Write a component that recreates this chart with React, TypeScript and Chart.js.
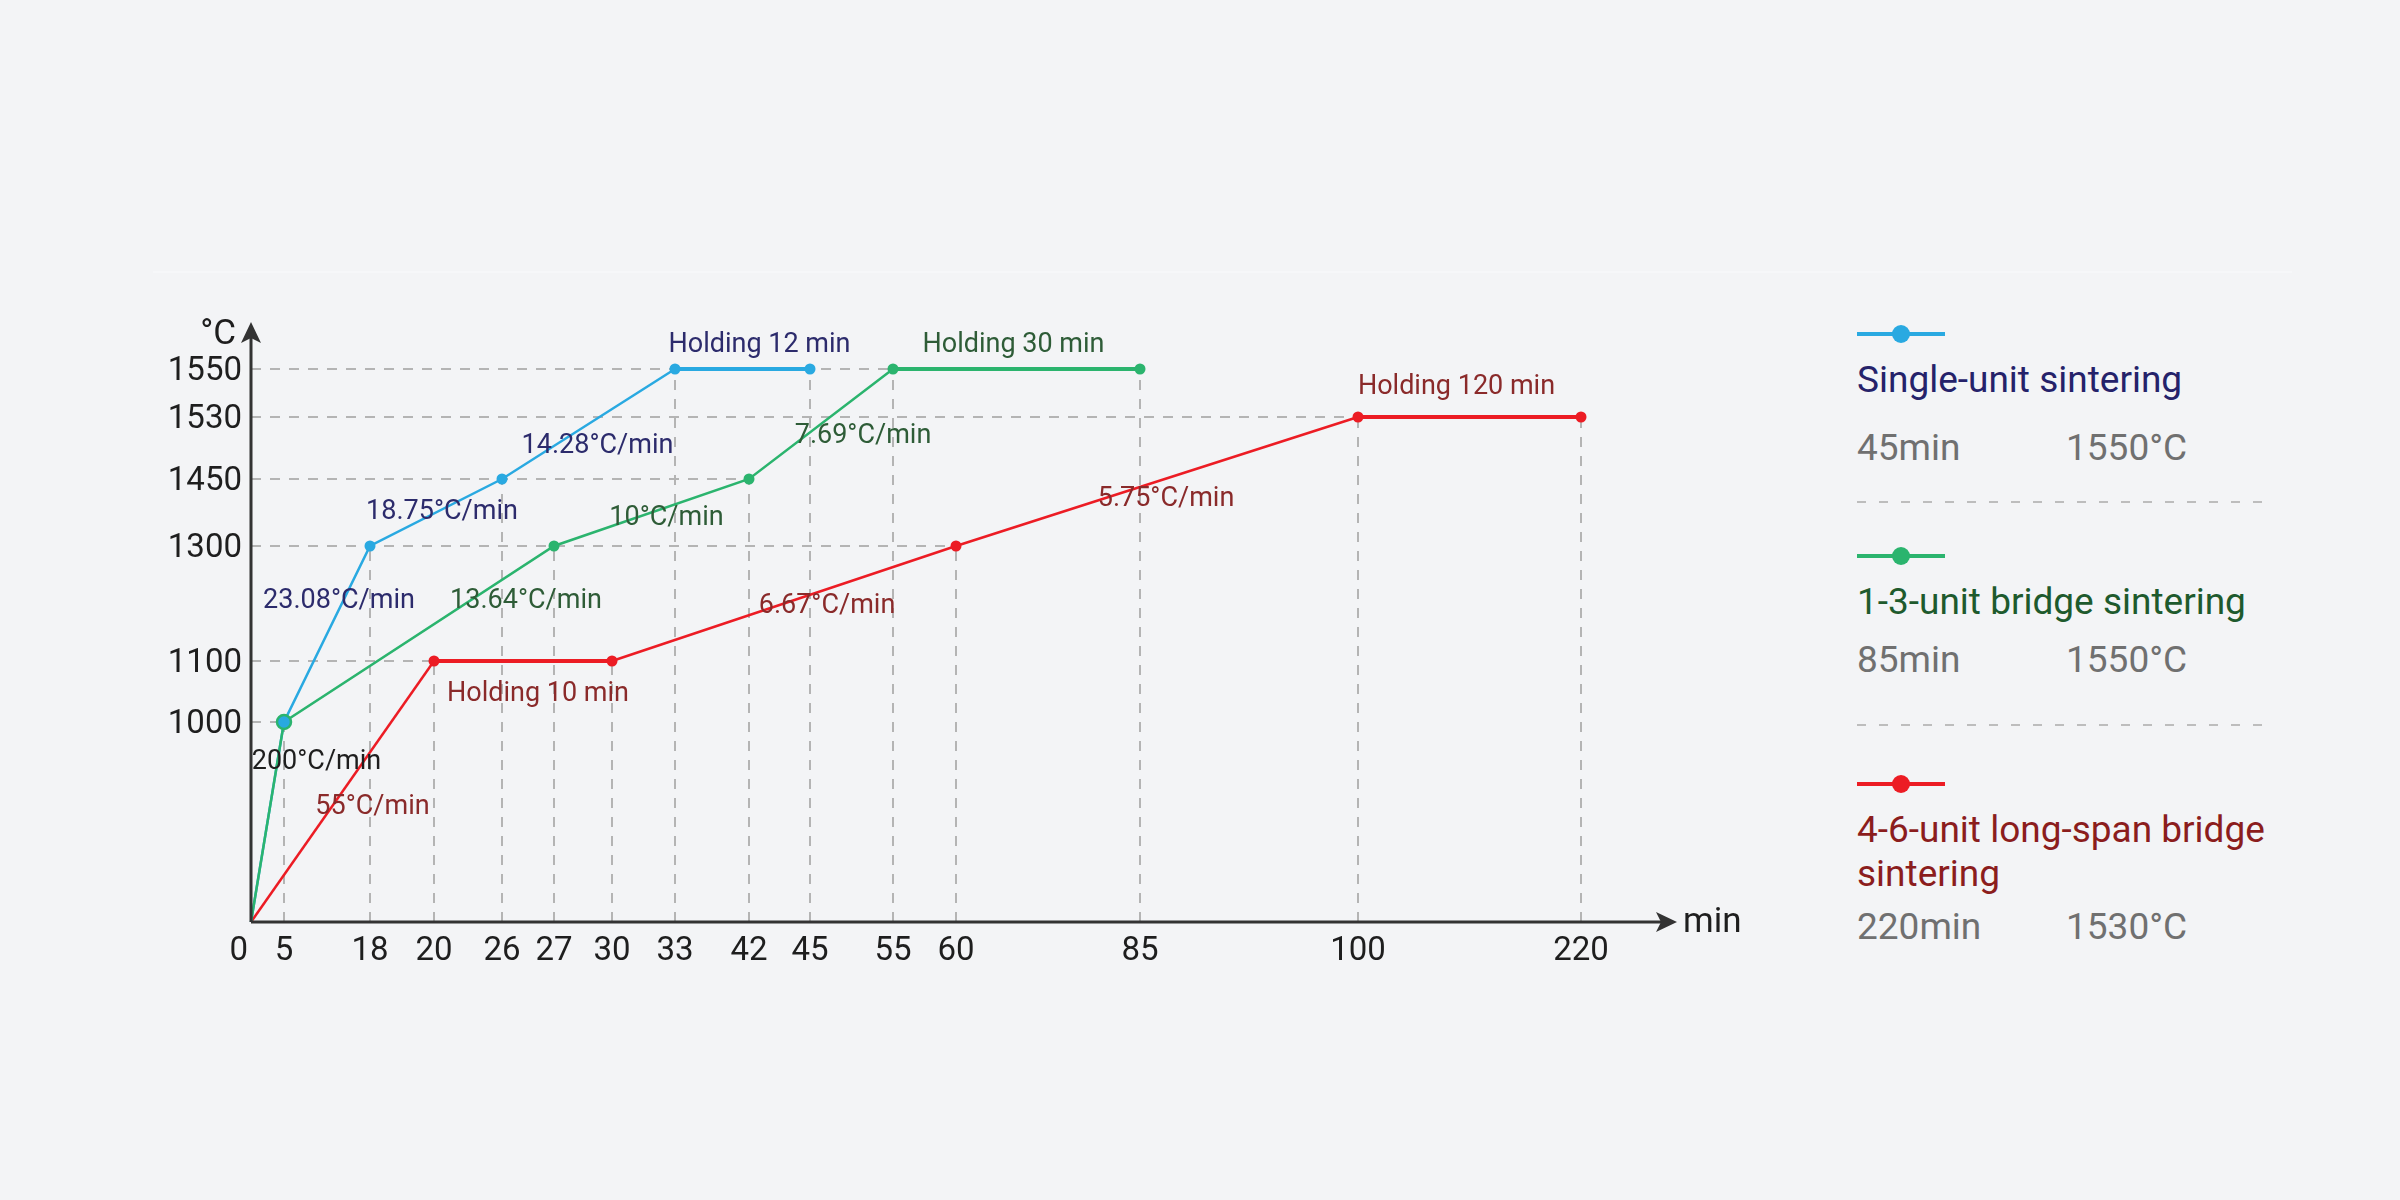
import { useEffect, useRef } from "react";
import { Chart, LinearScale, registerables } from "chart.js";

Chart.register(...registerables);

// axis ticks
const minutes = [0, 5, 18, 20, 26, 27, 30, 33, 42, 45, 55, 60, 85, 100, 220];
const temps = [0, 1000, 1100, 1300, 1450, 1530, 1550];

// single-unit sintering
const singleMin = [0, 5, 18, 26, 33, 45];
const singleTemp = [0, 1000, 1300, 1450, 1550, 1550];
const singleRates = ["", "23.08°C/min", "18.75°C/min", "14.28°C/min", "Holding 12 min"];

// 1-3-unit bridge sintering
const bridgeMin = [0, 5, 27, 42, 55, 85];
const bridgeTemp = [0, 1000, 1300, 1450, 1550, 1550];
const bridgeRates = ["200°C/min", "13.64°C/min", "10°C/min", "7.69°C/min", "Holding 30 min"];

// 4-6-unit long-span bridge sintering
const longMin = [0, 20, 30, 60, 100, 220];
const longTemp = [0, 1100, 1100, 1300, 1530, 1530];
const longRates = ["55°C/min", "Holding 10 min", "6.67°C/min", "5.75°C/min", "Holding 120 min"];

const seriesNames = ["Single-unit sintering", "1-3-unit bridge sintering", "4-6-unit long-span bridge sintering"];
const totalTimes = ["45min", "85min", "220min"];
const peakTemps = ["1550°C", "1550°C", "1530°C"];

// ---- layout / style ----
const BG = "#f3f4f6";
const FONT = "Roboto, 'Noto Sans', sans-serif";
const LINE_COLORS = ["#29a9e1", "#2bb46e", "#ec1c24"];
const NOTE_COLORS = ["#2c2b6c", "#2e5c37", "#8a2a2a"];
const TITLE_COLORS = ["#25226a", "#1e5a2d", "#8b1d1d"];

// the axes are hand-spaced: pixel gap between neighbouring ticks
const X_GAPS = [33, 86, 64, 68, 52, 58, 63, 74, 61, 83, 63, 184, 218, 223];
const Y_GAPS = [200, 61, 115, 67, 62, 48];

// label offsets from each segment's midpoint [dx, dy]
const NOTE_OFFSETS = [
  [[0, 0], [12, -33], [6, 0], [9, 22], [17, -24]],
  [[49, -60], [107, -33], [15, 6], [42, 12], [-3, -24]],
  [[30, 16], [15, 33], [43, 3], [9, 18], [-13, -30]],
];

function makeWarp(breaks: number[], gaps: number[]) {
  const cum = [0];
  gaps.forEach((g, i) => cum.push(cum[i] + g));
  const total = cum[cum.length - 1];
  const toDec = (v: number) => {
    let i = 0;
    while (i < breaks.length - 2 && v > breaks[i + 1]) i++;
    const t = (v - breaks[i]) / (breaks[i + 1] - breaks[i]);
    return (cum[i] + t * gaps[i]) / total;
  };
  const fromDec = (d: number) => {
    const p = d * total;
    let i = 0;
    while (i < gaps.length - 1 && p > cum[i + 1]) i++;
    return breaks[i] + ((p - cum[i]) / gaps[i]) * (breaks[i + 1] - breaks[i]);
  };
  return { toDec, fromDec };
}

const warps: any = { x: makeWarp(minutes, X_GAPS), y: makeWarp(temps, Y_GAPS) };

class StepAxis extends LinearScale {
  static id = "stepAxis";
  static defaults = {};
  buildTicks() {
    return (this.axis === "x" ? minutes : temps).map((value) => ({ value }));
  }
  getPixelForValue(value: number) {
    return this.getPixelForDecimal(warps[this.axis].toDec(value));
  }
  getValueForPixel(pixel: number) {
    return warps[this.axis].fromDec(this.getDecimalForPixel(pixel));
  }
}
Chart.register(StepAxis);

const toPoints = (xs: number[], ys: number[]) => xs.map((x, i) => ({ x, y: ys[i] }));

const guidePlugin = {
  id: "guides",
  beforeDatasetsDraw(chart: any) {
    const { ctx, scales } = chart;
    const { x, y } = scales;
    const topAt = new Map<number, number>();
    const rightAt = new Map<number, number>();
    chart.data.datasets.forEach((ds: any) =>
      ds.data.forEach((p: any) => {
        if (p.y === 0) return;
        topAt.set(p.x, Math.max(topAt.get(p.x) ?? 0, p.y));
        rightAt.set(p.y, Math.max(rightAt.get(p.y) ?? 0, p.x));
      })
    );
    const x0 = x.getPixelForValue(0);
    const y0 = y.getPixelForValue(0);
    ctx.save();
    ctx.strokeStyle = "#b4b4b4";
    ctx.lineWidth = 2;
    ctx.setLineDash([10, 9]);
    topAt.forEach((t, m) => {
      const px = x.getPixelForValue(m);
      ctx.beginPath();
      ctx.moveTo(px, y0);
      ctx.lineTo(px, y.getPixelForValue(t));
      ctx.stroke();
    });
    rightAt.forEach((m, t) => {
      const py = y.getPixelForValue(t);
      ctx.beginPath();
      ctx.moveTo(x0, py);
      ctx.lineTo(x.getPixelForValue(m), py);
      ctx.stroke();
    });
    ctx.restore();
  },
};

const axesPlugin = {
  id: "arrowAxes",
  afterDatasetsDraw(chart: any) {
    const { ctx, scales } = chart;
    const x0 = scales.x.getPixelForValue(0);
    const y0 = scales.y.getPixelForValue(0);
    const top = chart.chartArea.top - 47;
    const right = chart.chartArea.right + 96;
    ctx.save();
    ctx.strokeStyle = "#333";
    ctx.fillStyle = "#333";
    ctx.lineWidth = 3;
    ctx.beginPath();
    ctx.moveTo(x0, y0);
    ctx.lineTo(x0, top + 12);
    ctx.moveTo(x0, y0);
    ctx.lineTo(right - 12, y0);
    ctx.stroke();
    // arrow heads
    ctx.beginPath();
    ctx.moveTo(x0, top);
    ctx.lineTo(x0 + 10, top + 21);
    ctx.lineTo(x0, top + 16);
    ctx.lineTo(x0 - 10, top + 21);
    ctx.closePath();
    ctx.fill();
    ctx.beginPath();
    ctx.moveTo(right, y0);
    ctx.lineTo(right - 21, y0 - 10);
    ctx.lineTo(right - 16, y0);
    ctx.lineTo(right - 21, y0 + 10);
    ctx.closePath();
    ctx.fill();
    // axis units
    ctx.font = `35px ${FONT}`;
    ctx.fillStyle = "#1e1e1e";
    ctx.textBaseline = "alphabetic";
    ctx.textAlign = "right";
    ctx.fillText("°C", x0 - 15, top + 22);
    ctx.textAlign = "left";
    ctx.fillText("min", right + 6, y0 + 10);
    ctx.restore();
  },
};

const notes = [singleRates, bridgeRates, longRates];

const notePlugin = {
  id: "rateNotes",
  afterDatasetsDraw(chart: any) {
    const { ctx } = chart;
    ctx.save();
    ctx.font = `27px ${FONT}`;
    ctx.textAlign = "center";
    ctx.textBaseline = "middle";
    notes.forEach((labels, di) => {
      const pts = chart.getDatasetMeta(di).data;
      labels.forEach((text, si) => {
        if (!text) return;
        const a = pts[si];
        const b = pts[si + 1];
        const [dx, dy] = NOTE_OFFSETS[di][si];
        ctx.fillStyle = text === "200°C/min" ? "#1e1e1e" : NOTE_COLORS[di];
        ctx.fillText(text, (a.x + b.x) / 2 + dx, (a.y + b.y) / 2 + dy);
      });
    });
    ctx.restore();
  },
};

function lineDataset(label: string, xs: number[], ys: number[], color: string, order: number, special?: number) {
  return {
    label,
    data: toPoints(xs, ys),
    order,
    clip: false,
    borderColor: color,
    backgroundColor: color,
    borderWidth: 2.5,
    segment: {
      borderWidth: (c: any) => (c.p0.parsed.y === c.p1.parsed.y ? 4 : 2.5),
    },
    pointRadius: (c: any) => (c.dataIndex === 0 ? 0 : c.dataIndex === special ? 7 : 5.5),
    pointBackgroundColor: (c: any) => (c.dataIndex === special ? LINE_COLORS[0] : color),
    pointBorderColor: color,
    pointBorderWidth: (c: any) => (c.dataIndex === special ? 2.5 : 0),
  };
}

function SinteringChart() {
  const chartRef = useRef<HTMLCanvasElement>(null);
  const chartInstance = useRef<Chart | null>(null);

  useEffect(() => {
    if (!chartRef.current) return;
    if (chartInstance.current) chartInstance.current.destroy();

    const tickFont = { family: FONT, size: 33 };

    chartInstance.current = new Chart(chartRef.current, {
      type: "line",
      data: {
        datasets: [
          lineDataset(seriesNames[0], singleMin, singleTemp, LINE_COLORS[0], 1),
          lineDataset(seriesNames[1], bridgeMin, bridgeTemp, LINE_COLORS[1], 0, 1),
          lineDataset(seriesNames[2], longMin, longTemp, LINE_COLORS[2], 2),
        ] as any,
      },
      options: {
        responsive: false,
        animation: false,
        events: [],
        layout: { padding: { left: 0, top: 369, right: 219, bottom: 218 } },
        plugins: { legend: { display: false }, tooltip: { enabled: false } },
        scales: {
          x: {
            type: "stepAxis" as any,
            min: 0,
            max: 220,
            grid: { display: false, drawTicks: false },
            border: { display: false },
            ticks: {
              autoSkip: false,
              maxRotation: 0,
              padding: 10,
              color: "#1e1e1e",
              font: tickFont,
              // the origin label sits a little left of the corner
              callback: (v: any) => (v === 0 ? "0   " : String(v)),
            },
            afterFit: (s: any) => {
              s.height = 60;
            },
          },
          y: {
            type: "stepAxis" as any,
            min: 0,
            max: 1550,
            grid: { display: false, drawTicks: false },
            border: { display: false },
            ticks: {
              autoSkip: false,
              padding: 9,
              labelOffset: 3,
              color: "#1e1e1e",
              font: tickFont,
              callback: (v: any) => (v === 0 ? "" : String(v)),
            },
            afterFit: (s: any) => {
              s.width = 251;
            },
          },
        },
      } as any,
      plugins: [guidePlugin, axesPlugin, notePlugin],
    });

    return () => {
      if (chartInstance.current) {
        chartInstance.current.destroy();
        chartInstance.current = null;
      }
    };
  }, []);

  return (
    <canvas
      ref={chartRef}
      width={1800}
      height={1200}
      style={{ position: "absolute", left: 0, top: 0, width: 1800, height: 1200 }}
    />
  );
}

// legend rows: marker centre, title top, stats top, separator top (px)
const LEGEND_ROWS = [
  { marker: 334, title: 358, stats: 426, sep: 501 },
  { marker: 556, title: 580, stats: 638, sep: 724 },
  { marker: 784, title: 808, stats: 905, sep: null },
];

function Legend() {
  const left = 1857;
  return (
    <>
      {LEGEND_ROWS.map((row, i) => (
        <div key={i}>
          <div
            style={{
              position: "absolute",
              left,
              top: row.marker - 2,
              width: 88,
              height: 4,
              background: LINE_COLORS[i],
            }}
          />
          <div
            style={{
              position: "absolute",
              left: left + 35,
              top: row.marker - 9,
              width: 18,
              height: 18,
              borderRadius: "50%",
              background: LINE_COLORS[i],
            }}
          />
          <div
            style={{
              position: "absolute",
              left,
              top: row.title,
              width: 440,
              fontSize: 37,
              lineHeight: "44px",
              color: TITLE_COLORS[i],
            }}
          >
            {seriesNames[i]}
          </div>
          <div
            style={{
              position: "absolute",
              left,
              top: row.stats,
              fontSize: 37,
              lineHeight: "44px",
              color: "#707070",
              whiteSpace: "nowrap",
            }}
          >
            <span style={{ display: "inline-block", width: 209 }}>{totalTimes[i]}</span>
            <span>{peakTemps[i]}</span>
          </div>
          {row.sep !== null && (
            <div
              style={{
                position: "absolute",
                left,
                top: row.sep,
                width: 406,
                height: 2,
                backgroundImage: "repeating-linear-gradient(to right, #bdbdbd 0 9px, transparent 9px 22px)",
              }}
            />
          )}
        </div>
      ))}
    </>
  );
}

export default function App() {
  return (
    <div
      style={{
        position: "absolute",
        left: 0,
        top: 0,
        width: 2400,
        height: 1200,
        background: BG,
        fontFamily: FONT,
        overflow: "hidden",
      }}
    >
      <div style={{ position: "absolute", left: 153, top: 271, width: 2139, height: 2, background: "#f6f7f9" }} />
      <SinteringChart />
      <Legend />
    </div>
  );
}
